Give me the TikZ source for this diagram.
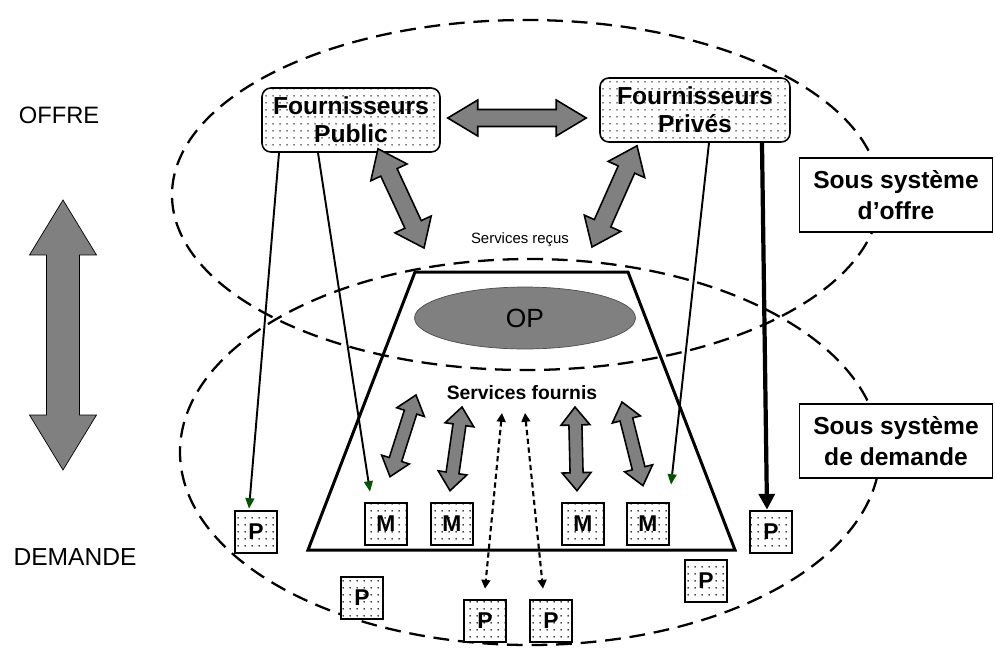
\documentclass[tikz,border=0pt]{standalone}
\usepackage{fontspec}
\setmainfont{Liberation Sans}
\usetikzlibrary{calc,shapes.geometric,patterns.meta,arrows.meta}

\definecolor{flowgray}{RGB}{128,128,128}
\definecolor{tipgreen}{RGB}{0,85,0}

% fat two-headed arrow: [style]{from}{to}{half shaft}{half head}{head length}
\newcommand{\dblflow}[6][]{%
  \draw[#1] (#2)
    -- ($(#2)!#6!(#3)!#5!90:(#3)$)
    -- ($(#2)!#6!(#3)!#4!90:(#3)$)
    -- ($(#3)!#6!(#2)!#4!-90:(#2)$)
    -- ($(#3)!#6!(#2)!#5!-90:(#2)$)
    -- (#3)
    -- ($(#3)!#6!(#2)!#5!90:(#2)$)
    -- ($(#3)!#6!(#2)!#4!90:(#2)$)
    -- ($(#2)!#6!(#3)!#4!-90:(#3)$)
    -- ($(#2)!#6!(#3)!#5!-90:(#3)$)
    -- cycle;}

\tikzset{
  dotfill/.style={preaction={fill=white}, pattern={Dots[distance=4pt,radius=0.5pt]}, pattern color=black},
  supplier/.style={draw, line width=0.9pt, rounded corners=5pt, dotfill, align=center,
    font=\bfseries\fontsize{14}{16}\selectfont, minimum height=1.28cm, inner sep=1pt},
  actor/.style={draw, line width=1.5pt, dotfill, minimum size=0.84cm, inner sep=0pt,
    font=\bfseries\fontsize{13}{13}\selectfont},
  sysbox/.style={draw, line width=0.8pt, fill=white, align=center,
    font=\bfseries\fontsize{14}{18}\selectfont, minimum width=3.86cm, minimum height=1.48cm},
  region/.style={line width=1.3pt, dash pattern=on 9pt off 5pt},
  feed/.style={line width=1.1pt, -{Triangle[length=6pt,width=5pt,color=tipgreen]}},
  bigfeed/.style={line width=2.4pt, -{Triangle[length=9pt,width=9pt]}},
  link/.style={line width=1.2pt, dash pattern=on 3pt off 2pt,
    {Triangle[length=5pt,width=5pt]}-{Triangle[length=5pt,width=5pt]}},
  flow/.style={draw=black, line width=0.9pt, fill=flowgray, line join=miter},
  bigflow/.style={fill=flowgray}
}

\begin{document}
\begin{tikzpicture}[x=0.02cm, y=-0.02cm]
\useasboundingbox (0,0) rectangle (995,650);

% sub-systems
\draw[region] (526,195) ellipse [x radius=354, y radius=175];
\draw[region] (530,452) ellipse [x radius=350, y radius=193];

% organisation
\draw[line width=1.7pt, line join=miter] (415,272) -- (628,272) -- (735,550) -- (308,550) -- cycle;
\node[ellipse, draw=black!70, fill=flowgray, minimum width=4.42cm, minimum height=1.24cm,
  font=\fontsize{15}{15}\selectfont] (op) at (525,318) {OP};

\node[font=\fontsize{13.5}{14}\selectfont] (offre) at (59,115) {OFFRE};
\node[font=\fontsize{14}{14}\selectfont] (dem) at (75,557) {DEMANDE};

\node[supplier, minimum width=3.56cm] (pub) at (351,120) {Fournisseurs\\Public};
\node[supplier, minimum width=3.8cm] (priv) at (695,110) {Fournisseurs\\Privés};

\node[sysbox] (so) at (896,195) {Sous système\\d’offre};
\node[sysbox] (sd) at (896,441) {Sous système\\de demande};

\node[font=\fontsize{8.5}{9}\selectfont] (sr) at (520,240) {Services reçus};
\node[font=\bfseries\fontsize{11}{12}\selectfont] (sf) at (522,393) {Services fournis};

\foreach \x/\n in {386/m1, 452/m2, 583/m3, 648/m4}
  \node[actor] (\n) at (\x,524) {M};

\node[actor] (p1) at (256,532) {P};
\node[actor] (p2) at (362,598) {P};
\node[actor] (p3) at (485,621) {P};
\node[actor] (p4) at (551,621) {P};
\node[actor] (p5) at (706,581) {P};
\node[actor] (p6) at (771,532) {P};

% supply lines
\draw[feed] ([xshift=-1.44cm]pub.south) -- ([xshift=-0.14cm,yshift=0.02cm]p1.north);
\draw[feed] ([xshift=-0.66cm]pub.south) -- ([xshift=-0.32cm,yshift=0.2cm]m1.north);
\draw[feed] ([xshift=0.28cm]priv.south) -- ([xshift=0.46cm,yshift=0.34cm]m4.north);
\draw[bigfeed] ([xshift=1.34cm]priv.south) -- ([xshift=-0.08cm]p6.north);

\draw[link] ([xshift=-0.4cm,yshift=-0.4cm]sf.center) -- ([yshift=0.2cm]p3.north);
\draw[link] ([xshift=0.06cm,yshift=-0.4cm]sf.center) -- ([xshift=-0.16cm,yshift=0.2cm]p4.north);

% exchanges
\coordinate (offA) at ([xshift=0.08cm,yshift=-1.7cm]offre.center);
\coordinate (demA) at ([xshift=-0.24cm,yshift=1.74cm]dem.center);
\dblflow[bigflow]{offA}{demA}{0.33cm}{0.67cm}{1.1cm}

\coordinate (pubE) at ([xshift=0.14cm,yshift=0.04cm]pub.east);
\coordinate (privW) at ([xshift=-0.26cm,yshift=-0.16cm]priv.west);
\dblflow[flow]{pubE}{privW}{0.17cm}{0.36cm}{0.6cm}

\coordinate (pubS) at ([xshift=0.54cm,yshift=0.08cm]pub.south);
\coordinate (srL) at ([xshift=-1.92cm,yshift=-0.16cm]sr.center);
\dblflow[flow]{pubS}{srL}{0.18cm}{0.4cm}{0.52cm}

\coordinate (privS) at ([xshift=-1.16cm,yshift=-0.06cm]priv.south);
\coordinate (srR) at ([xshift=1.44cm,yshift=-0.14cm]sr.center);
\dblflow[flow]{privS}{srR}{0.18cm}{0.4cm}{0.52cm}

\coordinate (sf1) at ([xshift=-2.12cm,yshift=-0.04cm]sf.center);
\coordinate (sf2) at ([xshift=-1.2cm,yshift=-0.28cm]sf.center);
\coordinate (sf3) at ([xshift=1.06cm,yshift=-0.28cm]sf.center);
\coordinate (sf4) at ([xshift=2.0cm,yshift=-0.18cm]sf.center);
\coordinate (mt1) at ([xshift=0.08cm,yshift=0.5cm]m1.north);
\coordinate (mt2) at ([xshift=-0.04cm,yshift=0.22cm]m2.north);
\coordinate (mt3) at ([xshift=-0.12cm,yshift=0.22cm]m3.north);
\coordinate (mt4) at ([xshift=-0.1cm,yshift=0.32cm]m4.north);
\dblflow[flow]{sf1}{mt1}{0.13cm}{0.29cm}{0.36cm}
\dblflow[flow]{sf2}{mt2}{0.13cm}{0.29cm}{0.36cm}
\dblflow[flow]{sf3}{mt3}{0.13cm}{0.29cm}{0.36cm}
\dblflow[flow]{sf4}{mt4}{0.13cm}{0.29cm}{0.36cm}
\end{tikzpicture}
\end{document}
